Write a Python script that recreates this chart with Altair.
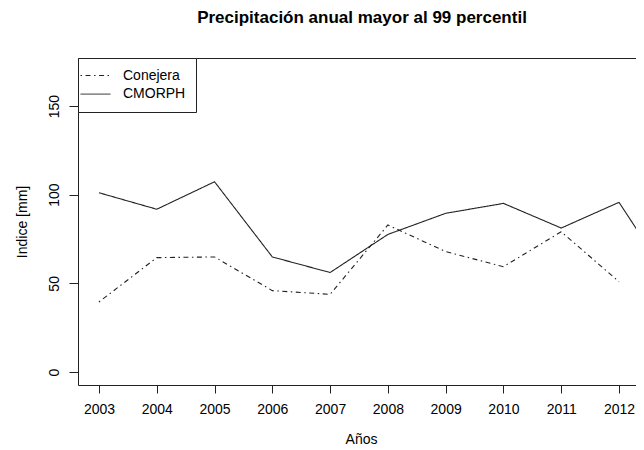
import altair as alt
import pandas as pd

# ---- data ----
years_conejera = [2003, 2004, 2005, 2006, 2007, 2008, 2009, 2010, 2011, 2012]
conejera = [39.5, 64.5, 64.9, 45.9, 43.8, 82.9, 67.9, 59.4, 79.1, 50.9]
years_cmorph = [2003, 2004, 2005, 2006, 2007, 2008, 2009, 2010, 2011, 2012, 2013]
cmorph = [101.1, 91.8, 107.3, 64.9, 56.1, 77.6, 89.5, 95.1, 81.2, 95.7, 46.0]
tick_years = [2003, 2004, 2005, 2006, 2007, 2008, 2009, 2010, 2011, 2012]
y_ticks = [0, 50, 100, 150]
series_order = ["Conejera", "CMORPH"]

df = pd.concat([
    pd.DataFrame({"year": years_conejera, "value": conejera, "serie": "Conejera"}),
    pd.DataFrame({"year": years_cmorph, "value": cmorph, "serie": "CMORPH"}),
], ignore_index=True)

FONT = "Liberation Sans"
INK = "#222222"
W, H = 558, 327

xscale = alt.Scale(domain=[2002.637, 2012.294], nice=False, zero=False)
yscale = alt.Scale(domain=[-7.33, 177.1], nice=False, zero=False)

lines = alt.Chart(df).mark_line(clip=True, strokeWidth=1.1, color=INK).encode(
    x=alt.X("year:Q", scale=xscale, axis=alt.Axis(
        values=tick_years, format="d", tickSize=8, labelPadding=9,
        labelFontSize=14, labelFont=FONT, labelColor="black",
        title="Años", titleFont=FONT, titleFontSize=14, titleFontWeight="normal",
        titleColor="black", titleX=283, titleY=58, titleAlign="center",
        titleBaseline="alphabetic", grid=False, domainColor=INK, tickColor=INK,
        labelOverlap=False)),
    y=alt.Y("value:Q", scale=yscale, axis=alt.Axis(
        values=y_ticks, tickSize=9, labelAngle=270, labelAlign="center",
        labelBaseline="bottom", labelPadding=8, labelFontSize=14, labelFont=FONT,
        labelColor="black", title="Indice [mm]", titleFont=FONT, titleFontSize=14,
        titleFontWeight="normal", titleColor="black", titleAngle=270,
        titleX=-52, titleY=163.5, titleAlign="center", titleBaseline="alphabetic",
        grid=False, domainColor=INK, tickColor=INK)),
    strokeDash=alt.StrokeDash("serie:N", scale=alt.Scale(
        domain=series_order, range=[[1.5, 3.5, 5, 3.5], [1, 0]]),
        legend=alt.Legend(title=None, orient="none", legendX=0, legendY=0,
                          strokeColor=INK, fillColor="white", padding=10,
                          cornerRadius=0, symbolType="M-2.14,0H2.14",
                          symbolSize=196, symbolStrokeWidth=1,
                          symbolStrokeColor=INK, labelFontSize=14,
                          labelFont=FONT, labelColor="black", labelOffset=20,
                          rowPadding=3.6)),
    order=alt.Order("year:Q"),
)

# top border of the frame, drawn as a label-less top axis
top = alt.Chart(df).mark_point(opacity=0).encode(
    x=alt.X("year:Q", scale=xscale, axis=alt.Axis(
        orient="top", labels=False, ticks=False, title=None, grid=False,
        domainColor=INK)),
    y=alt.Y("value:Q", scale=yscale, axis=alt.Axis(
        orient="right", labels=False, ticks=False, title=None, grid=False,
        domain=False)),
)

chart = alt.layer(lines, top).resolve_axis(x="independent", y="independent").properties(
    width=W, height=H,
    title=alt.TitleParams("Precipitación anual mayor al 99 percentil",
                          font=FONT, fontSize=17, fontWeight="bold",
                          color="black", anchor="middle", dx=5, offset=31),
    autosize=alt.AutoSizeParams(type="none"),
    padding={"left": 70, "top": 50, "right": 0, "bottom": 62},
).configure_view(stroke=None).configure(background="white")

chart.save("out.html", embed_options={"renderer": "svg", "actions": False})
